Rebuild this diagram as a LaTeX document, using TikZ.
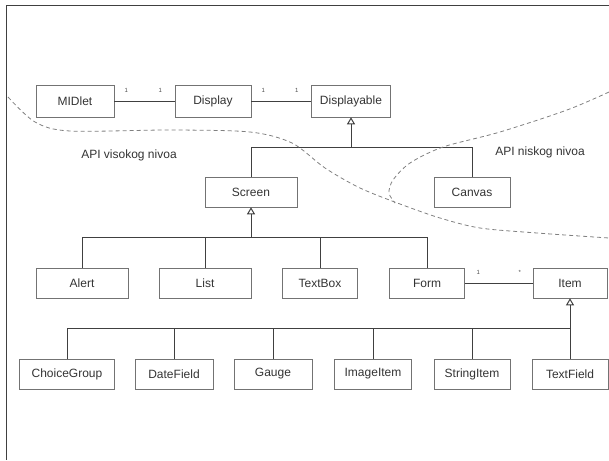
\documentclass[tikz,border=0pt]{standalone}
\usepackage{fontspec}
\setmainfont{Liberation Sans}
\usepackage{tikz}
\usepackage{xcolor}
\usetikzlibrary{arrows,arrows.meta}
\usetikzlibrary{positioning}

\begin{document}
\begin{tikzpicture}[x=1pt, y=-1pt, node distance=138pt,
                line width=1pt, draw=black!75,
                class node/.style={rectangle, draw=black!55, line width=0.6pt,
                  minimum height=30pt, inner sep=0pt, text=black!80,
                  font=\fontsize{12}{14}\selectfont},
                assoc/.style={-, draw=black!75, line width=1pt},
                gen/.style={-{Triangle[open, length=7pt, width=8pt]}, draw=black!75, line width=1pt},
                mult/.style={above=8pt, inner sep=0pt, text=black!70, font=\fontsize{6}{7}\selectfont},
                boundary/.style={draw=black!50, line width=0.8pt, dash pattern=on 4pt off 3pt},
                level/.style={text=black!80, font=\fontsize{12}{14}\selectfont}]

  \useasboundingbox (0,0) rectangle (609,460);
  \draw[black!75, line width=1pt] (609,6) -- (6,6) -- (6,460);

  % top row
  \node[class node, minimum width=78pt, minimum height=32pt] (MIDlet) at (75,101) {MIDlet};
  \node[class node, minimum width=76pt, minimum height=32pt] (Display) [right of=MIDlet] {Display};
  \node[class node, minimum width=79pt, minimum height=32pt] (Displayable) [right of=Display] {Displayable};

  \node[class node, minimum width=92pt] (Screen) at (251,192) {Screen};
  \node[class node, minimum width=76pt] (Canvas) at (472,192) {Canvas};

  \node[class node, minimum width=92pt] (Alert) at (82,283) {Alert};
  \node[class node, minimum width=92pt] (List) at (205,283) {List};
  \node[class node, minimum width=75pt] (TextBox) at (320,283) {TextBox};
  \node[class node, minimum width=75pt] (Form) at (427,283) {Form};
  \node[class node, minimum width=74pt] (Item) at (570,283) {Item};

  \node[class node, minimum width=95pt] (ChoiceGroup) at (67,374) {ChoiceGroup};
  \node[class node, minimum width=78pt] (DateField) at (174,374) {DateField};
  \node[class node, minimum width=78pt] (Gauge) at (273,374) {Gauge};
  \node[class node, minimum width=77pt] (ImageItem) at (373,374) {ImageItem};
  \node[class node, minimum width=76pt] (StringItem) at (472,374) {StringItem};
  \node[class node, minimum width=76pt] (TextField) at (570,374) {TextField};

  \node[level] (high) at (129,155) {API visokog nivoa};
  \node[level] (low) at (540,152) {API niskog nivoa};

  % associations
  \path
    (MIDlet) edge[assoc] node[mult, pos=.2] {1} node[mult, pos=.76] {1} (Display)
    (Display) edge[assoc] node[mult, pos=.2] {1} node[mult, pos=.76] {1} (Displayable)
    (Form) edge[assoc] node[mult, pos=.2] {1} node[mult, pos=.81] {*} (Item);

  % generalizations
  \coordinate[below=30pt of Displayable.south] (dispbar);
  \draw[assoc] (Screen.north) |- (dispbar) -| (Canvas.north);
  \draw[gen] (dispbar) -- (Displayable.south);

  \coordinate[below=30pt of Screen.south] (scrbar);
  \draw[assoc] (Alert.north) |- (scrbar) -| (Form.north);
  \draw[assoc] (List.north) -- (List.north |- scrbar);
  \draw[assoc] (TextBox.north) -- (TextBox.north |- scrbar);
  \draw[gen] (scrbar) -- (Screen.south);

  \coordinate[below=30pt of Item.south] (itembar);
  \draw[assoc] (ChoiceGroup.north) |- (itembar);
  \foreach \n in {DateField, Gauge, ImageItem, StringItem}
    \draw[assoc] (\n.north) -- (\n.north |- itembar);
  \draw[gen] (TextField.north) -- (Item.south);

  % API boundaries
  \draw[boundary] plot[smooth] coordinates {(8,97) (35,122) (70,131) (170,130) (250,132)
    (292,143) (325,168) (360,188) (400,204) (440,218) (480,228) (537,233) (609,238)};
  \draw[boundary] plot[smooth] coordinates {(609,92) (567,110) (500,132) (443,147)
    (410,163) (393,180) (389,193) (395,203)};
\end{tikzpicture}
\end{document}
